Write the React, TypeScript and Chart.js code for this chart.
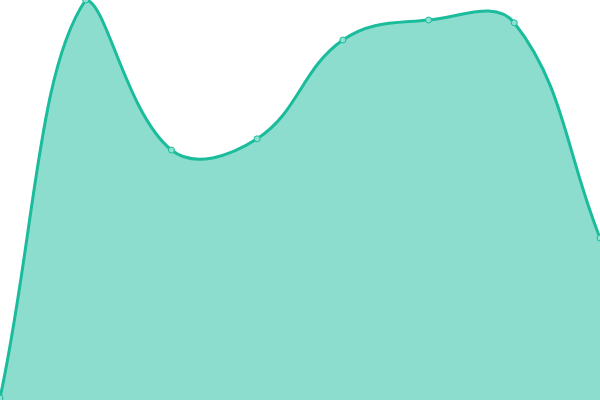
import { Chart, registerables } from 'chart.js';
import { useEffect, useRef } from 'react';

Chart.register(...registerables);

// values (bottom of canvas = 0, top = 100)
const labels = ['1', '2', '3', '4', '5', '6', '7', '8'];
const values = [0.5, 100, 62.5, 65.3, 90, 95, 94.3, 40.5];

const LINE = 'rgb(26, 188, 156)';
const FILL = 'rgba(26, 188, 156, 0.5)';

export default function App() {
  const canvasRef = useRef<HTMLCanvasElement | null>(null);
  const chartRef = useRef<Chart | null>(null);

  useEffect(() => {
    document.body.style.margin = '0';
    if (!canvasRef.current) return;
    chartRef.current?.destroy();
    chartRef.current = new Chart(canvasRef.current, {
      type: 'line',
      data: {
        labels,
        datasets: [{
          data: values,
          borderColor: LINE,
          backgroundColor: FILL,
          borderWidth: 3,
          fill: 'origin',
          tension: 0.4,
          pointRadius: 3,
          pointBorderWidth: 1,
          pointBackgroundColor: '#8ee0d0',
          pointBorderColor: LINE,
        }],
      },
      options: {
        animation: false,
        responsive: false,
        maintainAspectRatio: false,
        layout: { padding: 0, autoPadding: false },
        plugins: { legend: { display: false }, tooltip: { enabled: false } },
        scales: {
          x: { display: false },
          y: { display: false, min: 0, max: 100 },
        },
      },
    });
    return () => {
      chartRef.current?.destroy();
      chartRef.current = null;
    };
  }, []);

  return (
    <div style={{ width: 600, height: 400 }}>
      <canvas ref={canvasRef} width={600} height={400}></canvas>
    </div>
  );
}
